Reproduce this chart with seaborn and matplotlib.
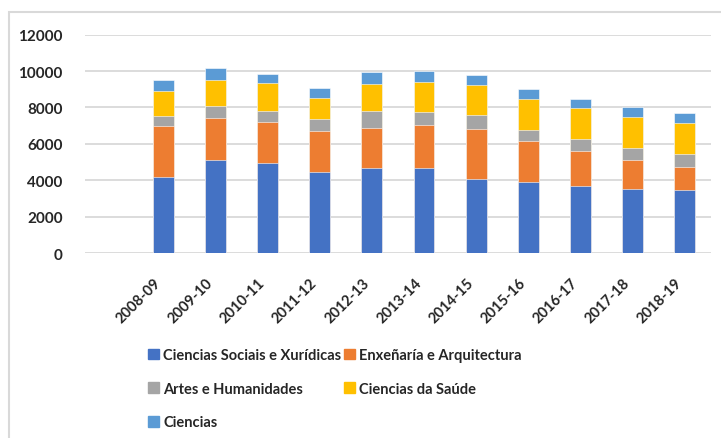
import matplotlib
matplotlib.use("Agg")
import matplotlib.pyplot as plt
import matplotlib.patches as mpatches
import numpy as np
import pandas as pd
import seaborn as sns

# datos
cursos = ["2008-09", "2009-10", "2010-11", "2011-12", "2012-13", "2013-14",
          "2014-15", "2015-16", "2016-17", "2017-18", "2018-19"]
sociais = [4190, 5110, 4960, 4450, 4670, 4670, 4050, 3900, 3700, 3530, 3480]
enxenaria = [2790, 2290, 2240, 2230, 2220, 2360, 2780, 2270, 1920, 1580, 1260]
artes = [570, 680, 620, 660, 910, 740, 730, 610, 660, 680, 680]
saude = [1350, 1430, 1500, 1160, 1470, 1630, 1690, 1660, 1670, 1680, 1700]
ciencias = [610, 650, 520, 580, 660, 600, 550, 570, 510, 530, 550]

series = ["Ciencias Sociais e Xurídicas", "Enxeñaría e Arquitectura",
          "Artes e Humanidades", "Ciencias da Saúde", "Ciencias"]
colores = ["#4472C4", "#ED7D31", "#A5A5A5", "#FFC000", "#5B9BD5"]

df = pd.DataFrame({"curso": cursos, series[0]: sociais, series[1]: enxenaria,
                   series[2]: artes, series[3]: saude, series[4]: ciencias})
acum = df[series].cumsum(axis=1)

sns.set_style("white")
plt.rcParams["font.family"] = ["Lato", "DejaVu Sans"]

fig = plt.figure(figsize=(7.21, 4.39), dpi=100)
ax = fig.add_axes([0.118, 0.4214, 0.868, 0.4973])

# barras apiladas: debuxar de arriba abaixo os totais acumulados
for s, c in reversed(list(zip(series, colores))):
    sns.barplot(x=df["curso"], y=acum[s], color=c, saturation=1, width=0.4,
                ax=ax, edgecolor="white", linewidth=0.4, zorder=3)

ax.set_xlim(-1.5, 10.5)
ax.set_ylim(0, 12000)
ax.set_yticks(np.arange(0, 12001, 2000))
ax.yaxis.grid(True, color="#d9d9d9", linewidth=1.3, zorder=0)
ax.set_axisbelow(True)
for sp in ax.spines.values():
    sp.set_visible(False)
ax.set_xlabel("")
ax.set_ylabel("")
ax.tick_params(axis="y", length=0, pad=16, labelsize=11)
ax.tick_params(axis="x", length=0, pad=16, labelsize=10.5)
for t in ax.get_yticklabels():
    t.set_fontweight("bold")
for t in ax.get_xticklabels():
    t.set_rotation(45)
    t.set_ha("right")
    t.set_fontweight("bold")

# lenda en dúas columnas
handles = [mpatches.Patch(color=c, label=s) for s, c in zip(series, colores)]
orde = [0, 2, 4, 1, 3]
fig.legend([handles[i] for i in orde], [series[i] for i in orde],
           loc="upper left", bbox_to_anchor=(0.187, 0.235), ncol=2,
           frameon=False, handlelength=0.75, handleheight=0.75,
           handletextpad=0.3, columnspacing=0.15, labelspacing=1.35,
           prop={"weight": "bold", "size": 10.5})

# marco do gráfico
fig.patches.append(mpatches.Rectangle((9 / 721, -0.05), 1.05, 1 - 13 / 439 + 0.05,
                                      transform=fig.transFigure, fill=False,
                                      edgecolor="#d9d9d9", linewidth=1.5))

fig.savefig("out.png", dpi=100)
